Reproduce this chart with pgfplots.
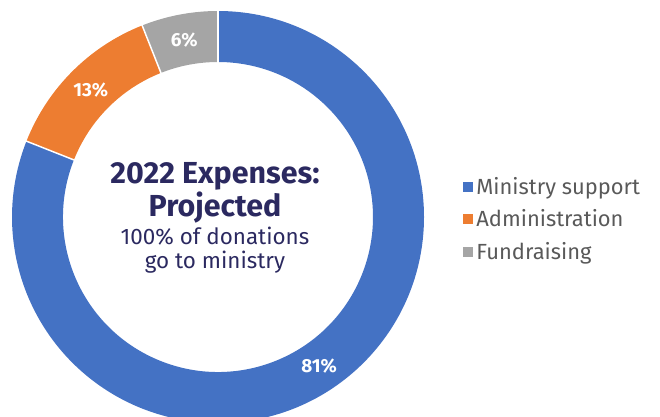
\documentclass[border=0pt]{standalone}
\usepackage{pgfplots}
\pgfplotsset{compat=1.18}
\usepackage{fontspec}
\setmainfont{Fira Sans}
\definecolor{cblue}{HTML}{4472C4}
\definecolor{corange}{HTML}{ED7D31}
\definecolor{cgray}{HTML}{A5A5A5}
\definecolor{navy}{HTML}{2B2960}
\definecolor{legtext}{HTML}{595959}
\begin{document}
\begin{tikzpicture}
\begin{axis}[
    x=1bp, y=1bp,
    scale only axis,
    xmin=0, xmax=660, ymin=0, ymax=416,
    hide axis,
    clip=true,
    legend cell align=left,
    legend image code/.code={\fill[#1] (0bp,-4.5bp) rectangle (9bp,4.5bp);},
    legend style={at={(axis cs:463,241)}, anchor=north west, draw=none, fill=none,
        inner sep=0pt, outer sep=0pt,
        font=\fontsize{22}{26}\selectfont\color{legtext}, row sep=10bp,
        /tikz/every odd column/.append style={column sep=2bp}},
]
\addlegendimage{cblue}
\addlegendentry{Ministry support}
\addlegendimage{corange}
\addlegendentry{Administration}
\addlegendimage{cgray}
\addlegendentry{Fundraising}

% slices, clockwise from the top
\pgfplotsextra{
\begin{scope}
\clip (axis cs:0,0) rectangle (axis cs:660,416);
\foreach \v/\col [remember=\cum as \prev (initially 0),
                evaluate=\v as \cum using \prev+\v] in {81/cblue,13/corange,6/cgray}{
  \pgfmathsetmacro\sa{90-3.6*\prev}
  \pgfmathsetmacro\ea{90-3.6*\cum}
  \pgfmathsetmacro\ma{(\sa+\ea)/2}
  \fill[fill=\col] (axis cs:218,199) ++(\sa:206bp) arc[start angle=\sa, end angle=\ea, radius=206bp]
     -- ++(\ea:-51bp) arc[start angle=\ea, end angle=\sa, radius=155bp] -- cycle;
  \node[text=white, font=\fontsize{19}{22}\selectfont\bfseries] at ([shift={(\ma:180bp)}]axis cs:218,199) {\v\%};
}
\foreach \a in {90,-201.6,111.6}{
  \draw[white, line width=1.5bp] (axis cs:218,199) ++(\a:154bp) -- ++(\a:53bp);
}
\end{scope}
}
\node[navy, anchor=base, font=\fontsize{30.5}{36}\selectfont\bfseries] at (axis cs:215,233) {2022 Expenses:};
\node[navy, anchor=base, font=\fontsize{30.5}{36}\selectfont\bfseries] at (axis cs:215,200) {Projected};
\node[navy, anchor=base, font=\fontsize{22.5}{27}\selectfont] at (axis cs:215,172) {100\% of donations};
\node[navy, anchor=base, font=\fontsize{22.5}{27}\selectfont] at (axis cs:215,148) {go to ministry};
\end{axis}
\pgfresetboundingbox
\useasboundingbox (current axis.south west) rectangle (current axis.north east);
\end{tikzpicture}
\end{document}
